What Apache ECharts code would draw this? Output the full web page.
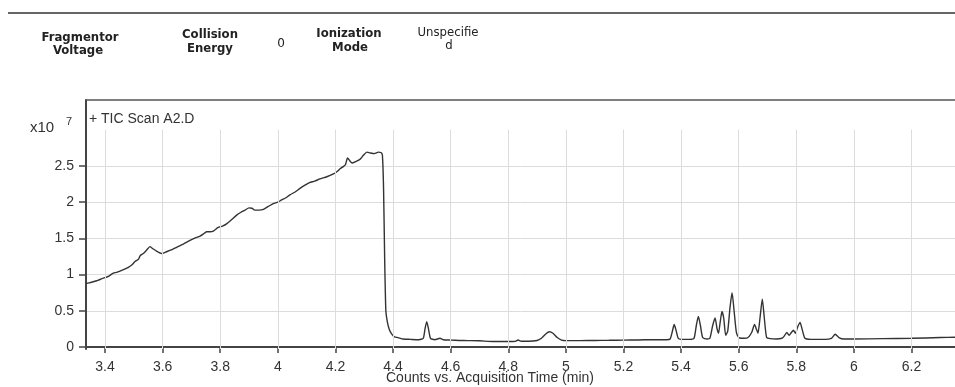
<!DOCTYPE html>
<html>
<head>
<meta charset="utf-8">
<script src="https://cdn.jsdelivr.net/npm/echarts@6/dist/echarts.min.js"></script>
<style>
  html, body { margin: 0; padding: 0; background: #fff; }
  #chart { width: 955px; height: 387px; }
</style>
</head>
<body>
<div id="chart"></div>
<script>
  // acquisition time (min) and counts (x10^7)
  var timeMin = [
    3.334, 3.345, 3.359, 3.375, 3.394, 3.41, 3.429, 3.44, 3.46, 3.481,
    3.495, 3.504, 3.516, 3.522, 3.533, 3.545, 3.556, 3.565, 3.58, 3.597,
    3.61, 3.63, 3.65, 3.672, 3.69, 3.71, 3.73, 3.745, 3.753, 3.765,
    3.776, 3.793, 3.808, 3.822, 3.84, 3.857, 3.872, 3.886, 3.90, 3.91,
    3.92, 3.935, 3.95, 3.967, 3.984, 4.00, 4.013, 4.028, 4.042, 4.06,
    4.077, 4.093, 4.11, 4.128, 4.146, 4.17, 4.193, 4.205, 4.216, 4.227,
    4.235, 4.242, 4.25, 4.258, 4.27, 4.285, 4.298, 4.309, 4.32, 4.335,
    4.349, 4.358, 4.363, 4.367, 4.371, 4.375, 4.38, 4.387, 4.395, 4.405,
    4.417, 4.435, 4.46, 4.49, 4.505, 4.511, 4.517, 4.523, 4.53, 4.545,
    4.563, 4.575, 4.60, 4.63, 4.66, 4.70, 4.75, 4.80, 4.825, 4.834,
    4.845, 4.87, 4.90, 4.915, 4.93, 4.943, 4.955, 4.97, 4.985, 5.00,
    5.05, 5.10, 5.15, 5.20, 5.25, 5.30, 5.35, 5.362, 5.37, 5.376,
    5.382, 5.39, 5.40, 5.43, 5.445, 5.453, 5.46, 5.467, 5.475, 5.49,
    5.50, 5.51, 5.518, 5.525, 5.53, 5.536, 5.542, 5.548, 5.555, 5.562,
    5.57, 5.577, 5.584, 5.592, 5.60, 5.61, 5.63, 5.645, 5.655, 5.662,
    5.667, 5.674, 5.682, 5.689, 5.697, 5.71, 5.73, 5.75, 5.758, 5.767,
    5.775, 5.783, 5.79, 5.797, 5.805, 5.813, 5.82, 5.83, 5.85, 5.90,
    5.922, 5.935, 5.948, 5.965, 6.00, 6.10, 6.20, 6.30, 6.351
  ];
  var counts = [
    0.88, 0.885, 0.90, 0.92, 0.95, 0.97, 1.02, 1.03, 1.06, 1.10,
    1.14, 1.18, 1.21, 1.26, 1.29, 1.34, 1.385, 1.36, 1.32, 1.29,
    1.31, 1.34, 1.38, 1.42, 1.46, 1.50, 1.53, 1.57, 1.59, 1.59,
    1.60, 1.65, 1.67, 1.70, 1.76, 1.82, 1.86, 1.89, 1.92, 1.915,
    1.89, 1.89, 1.90, 1.94, 1.98, 2.00, 2.03, 2.06, 2.10, 2.14,
    2.19, 2.23, 2.27, 2.29, 2.32, 2.35, 2.39, 2.42, 2.46, 2.49,
    2.52, 2.61, 2.57, 2.54, 2.56, 2.59, 2.65, 2.69, 2.68, 2.67,
    2.69, 2.685, 2.65, 2.2, 1.2, 0.5, 0.35, 0.24, 0.18, 0.14,
    0.13, 0.11, 0.105, 0.10, 0.12, 0.25, 0.35, 0.25, 0.12, 0.10,
    0.12, 0.10, 0.095, 0.09, 0.088, 0.085, 0.075, 0.075, 0.078, 0.097,
    0.08, 0.08, 0.09, 0.12, 0.18, 0.21, 0.19, 0.13, 0.095, 0.088,
    0.088, 0.09, 0.092, 0.095, 0.097, 0.10, 0.10, 0.11, 0.22, 0.31,
    0.24, 0.12, 0.105, 0.105, 0.12, 0.30, 0.42, 0.30, 0.13, 0.11,
    0.12, 0.30, 0.40, 0.25, 0.19, 0.35, 0.49, 0.40, 0.16, 0.22,
    0.55, 0.75, 0.50, 0.20, 0.13, 0.12, 0.125, 0.20, 0.31, 0.24,
    0.19, 0.40, 0.66, 0.40, 0.13, 0.115, 0.11, 0.12, 0.15, 0.20,
    0.16, 0.20, 0.23, 0.19, 0.28, 0.34, 0.25, 0.12, 0.105, 0.105,
    0.12, 0.175, 0.13, 0.11, 0.11, 0.115, 0.12, 0.13, 0.135
  ];
  var xTicks = [3.4, 3.6, 3.8, 4, 4.2, 4.4, 4.6, 4.8, 5, 5.2, 5.4, 5.6, 5.8, 6, 6.2];
  var yTicks = [0, 0.5, 1, 1.5, 2, 2.5];
  var xMin = 3.334, xMax = 6.351;
  var yMin = -0.028, yMax = 3.41, gridTop = 3;

  var points = timeMin.map(function (t, i) { return [t, counts[i]]; });

  var chart = echarts.init(document.getElementById('chart'));
  var font = '"Liberation Sans", Arial, sans-serif';
  var head = 'DejaVu Sans, Verdana, sans-serif';

  function headText(txt, x, y, bold, size) {
    return {
      type: 'text', x: x, y: y,
      style: {
        text: txt, align: 'center', verticalAlign: 'middle',
        font: (bold ? 'bold ' : '') + size + 'px ' + head, fill: '#222'
      }
    };
  }

  chart.setOption({
    animation: false,
    backgroundColor: '#fff',
    grid: { left: 86, top: 100, right: 0, bottom: 38 },
    xAxis: [{
      type: 'value',
      min: xMin,
      max: xMax,
      axisLine: { show: true, lineStyle: { color: '#444', width: 2 } },
      axisTick: { show: true, length: 6, customValues: xTicks, lineStyle: { color: '#444', width: 1.5 } },
      axisLabel: { customValues: xTicks, color: '#333', fontSize: 14, fontFamily: font, margin: 11 },
      splitLine: { show: false }
    }, {
      type: 'value',
      position: 'top',
      min: xMin,
      max: xMax,
      axisLine: { show: true, lineStyle: { color: '#555', width: 1.5 } },
      axisTick: { show: false },
      axisLabel: { show: false },
      splitLine: { show: false }
    }],
    yAxis: {
      type: 'value',
      min: yMin,
      max: yMax,
      axisLine: { show: true, lineStyle: { color: '#444', width: 2 } },
      axisTick: { show: true, length: 7, customValues: yTicks, lineStyle: { color: '#444', width: 1.5 } },
      axisLabel: { customValues: yTicks, color: '#333', fontSize: 14, fontFamily: font, margin: 12 },
      splitLine: { show: true, lineStyle: { color: '#dcdcdc', width: 1 } }
    },
    series: [{
      type: 'line',
      data: points,
      showSymbol: false,
      smooth: 0.2,
      lineStyle: { color: '#333', width: 1.4 },
      markLine: {
        silent: true,
        symbol: 'none',
        label: { show: false },
        lineStyle: { color: '#dcdcdc', width: 1, type: 'solid' },
        data: xTicks.map(function (t) {
          return [{ coord: [t, yMin] }, { coord: [t, gridTop] }];
        })
      }
    }],
    graphic: [
      { type: 'line', shape: { x1: 8, y1: 13, x2: 955, y2: 13 }, style: { stroke: '#333', lineWidth: 1.5 } },
      headText('Fragmentor', 80, 38, true, 11.7),
      headText('Voltage', 78, 51, true, 11.7),
      headText('Collision', 210, 35, true, 11.7),
      headText('Energy', 210, 49, true, 11.7),
      headText('0', 281, 44, false, 12),
      headText('Ionization', 349, 34, true, 11.7),
      headText('Mode', 350, 48, true, 11.7),
      headText('Unspecifie', 448, 33, false, 11.7),
      headText('d', 449, 46, false, 11.7),
      { type: 'text', left: 30, top: 120, style: { text: 'x10', font: '15px ' + font, fill: '#333' } },
      { type: 'text', left: 66, top: 116, style: { text: '7', font: '11px ' + font, fill: '#333' } },
      { type: 'text', left: 89, top: 112, style: { text: '+ TIC Scan A2.D', font: '14px ' + font, fill: '#333' } },
      { type: 'text', left: 386, top: 371, style: { text: 'Counts vs. Acquisition Time (min)', font: '14px ' + font, fill: '#333' } }
    ]
  });
</script>
</body>
</html>
